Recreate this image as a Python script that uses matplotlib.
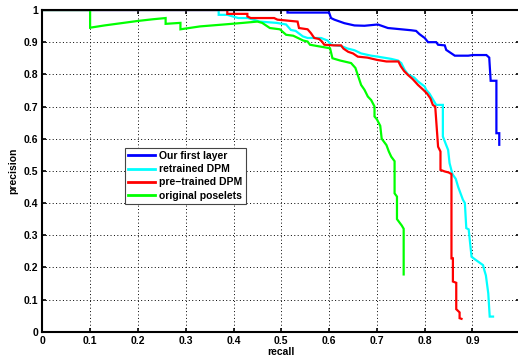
import numpy as np
import matplotlib
matplotlib.use("Agg")
import matplotlib.pyplot as plt

plt.rcParams['font.family'] = ['Liberation Sans', 'DejaVu Sans']
plt.rcParams['font.weight'] = 'bold'

# precision/recall curves
ours_recall = [0, 0.513, 0.513, 0.600, 0.604, 0.611, 0.632, 0.653, 0.674, 0.702, 0.723,
               0.751, 0.772, 0.782, 0.789, 0.800, 0.807, 0.824, 0.828, 0.842, 0.845,
               0.863, 0.891, 0.901, 0.929, 0.935, 0.938, 0.950, 0.950, 0.956, 0.956]
ours_prec = [1, 1, 0.992, 0.992, 0.975, 0.970, 0.959, 0.952, 0.951, 0.955, 0.944,
             0.940, 0.937, 0.935, 0.925, 0.913, 0.900, 0.900, 0.892, 0.890, 0.876,
             0.858, 0.858, 0.860, 0.860, 0.852, 0.780, 0.780, 0.617, 0.617, 0.581]

retrained_recall = [0, 0.369, 0.369, 0.387, 0.410, 0.430, 0.455, 0.490, 0.510, 0.520, 0.530,
                    0.545, 0.555, 0.583, 0.597, 0.604, 0.625, 0.639, 0.653, 0.667, 0.688,
                    0.702, 0.730, 0.744, 0.751, 0.758, 0.765, 0.778, 0.786, 0.800, 0.803,
                    0.810, 0.818, 0.824, 0.838, 0.838, 0.845, 0.849, 0.852, 0.858, 0.865,
                    0.870, 0.875, 0.880, 0.884, 0.887, 0.892, 0.898, 0.905, 0.922, 0.925,
                    0.928, 0.933, 0.936, 0.943]
retrained_prec = [1, 1, 0.985, 0.985, 0.975, 0.975, 0.964, 0.960, 0.955, 0.938, 0.935,
                  0.918, 0.913, 0.913, 0.905, 0.892, 0.888, 0.880, 0.875, 0.865, 0.858,
                  0.855, 0.848, 0.843, 0.835, 0.814, 0.800, 0.790, 0.778, 0.762, 0.752,
                  0.740, 0.720, 0.705, 0.705, 0.607, 0.580, 0.565, 0.524, 0.490, 0.475,
                  0.450, 0.430, 0.410, 0.400, 0.322, 0.318, 0.233, 0.225, 0.207, 0.190,
                  0.175, 0.119, 0.047, 0.047]

pretrained_recall = [0, 0.387, 0.387, 0.429, 0.429, 0.436, 0.485, 0.492, 0.534, 0.537, 0.555,
                     0.562, 0.569, 0.579, 0.585, 0.590, 0.610, 0.625, 0.630, 0.640, 0.650,
                     0.660, 0.680, 0.700, 0.720, 0.745, 0.750, 0.757, 0.765, 0.775, 0.786,
                     0.797, 0.805, 0.812, 0.817, 0.822, 0.828, 0.833, 0.833, 0.842, 0.850,
                     0.856, 0.856, 0.859, 0.859, 0.866, 0.866, 0.873, 0.873, 0.877]
pretrained_prec = [1, 1, 0.988, 0.988, 0.980, 0.975, 0.975, 0.970, 0.964, 0.944, 0.940,
                   0.928, 0.913, 0.910, 0.902, 0.892, 0.890, 0.890, 0.880, 0.870, 0.865,
                   0.855, 0.852, 0.845, 0.840, 0.840, 0.825, 0.810, 0.798, 0.785, 0.767,
                   0.752, 0.740, 0.725, 0.705, 0.700, 0.575, 0.560, 0.503, 0.498, 0.495,
                   0.490, 0.228, 0.228, 0.156, 0.152, 0.070, 0.060, 0.042, 0.040]

poselets_recall = [0, 0.100, 0.100, 0.130, 0.160, 0.200, 0.230, 0.258, 0.258, 0.289, 0.289,
                   0.330, 0.380, 0.420, 0.450, 0.460, 0.471, 0.476, 0.497, 0.510, 0.525,
                   0.546, 0.555, 0.560, 0.575, 0.602, 0.607, 0.623, 0.646, 0.655, 0.660,
                   0.667, 0.674, 0.681, 0.688, 0.695, 0.695, 0.700, 0.707, 0.710, 0.720,
                   0.725, 0.730, 0.737, 0.737, 0.742, 0.742, 0.752, 0.756, 0.756]
poselets_prec = [1, 1, 0.945, 0.952, 0.958, 0.966, 0.971, 0.975, 0.957, 0.960, 0.940,
                 0.949, 0.955, 0.960, 0.964, 0.960, 0.949, 0.944, 0.940, 0.923, 0.920,
                 0.905, 0.902, 0.892, 0.888, 0.881, 0.850, 0.843, 0.835, 0.820, 0.798,
                 0.767, 0.752, 0.731, 0.720, 0.700, 0.669, 0.660, 0.640, 0.600, 0.580,
                 0.560, 0.544, 0.530, 0.430, 0.420, 0.350, 0.330, 0.320, 0.178]

x_ticklabels = ['0', '0.1', '0.2', '0.3', '0.4', '0.5', '0.6', '0.7', '0.8', '0.9', '']
y_ticklabels = ['0', '0.1', '0.2', '0.3', '0.4', '0.5', '0.6', '0.7', '0.8', '0.9', '1']

series = [
    ("Our first layer", ours_recall, ours_prec, "#0000ff"),
    ("retrained DPM", retrained_recall, retrained_prec, "#00ffff"),
    ("pre\u2212trained DPM", pretrained_recall, pretrained_prec, "#ff0000"),
    ("original poselets", poselets_recall, poselets_prec, "#00ff00"),
]

fig = plt.figure(figsize=(5.18, 3.56), dpi=100)
ax = fig.add_axes([42.3 / 518, 24.3 / 356, 478 / 518, 321.7 / 356])

for label, r, p, c in series:
    ax.plot(r, p, color=c, lw=1.6, label=label, solid_joinstyle='miter')

ax.set_xlim(0, 1)
ax.set_ylim(0, 1)
ax.set_xticks(np.arange(0, 1.01, 0.1))
ax.set_yticks(np.arange(0, 1.01, 0.1))
ax.set_xticklabels(x_ticklabels)
ax.set_yticklabels(y_ticklabels)
ax.tick_params(direction='in', length=3, width=1.2, labelsize=7.5, pad=3,
               top=True, right=True)
ax.grid(True, color='black', linestyle=(0, (1, 2.5)), lw=0.7)
for s in ax.spines.values():
    s.set_linewidth(1.5)

ax.set_xlabel('recall', fontsize=7.5, fontweight='bold', labelpad=1)
ax.set_ylabel('precision', fontsize=7.5, fontweight='bold', labelpad=4)

leg = ax.legend(loc='upper left', bbox_to_anchor=(0.173, 0.571), borderaxespad=0,
                fontsize=7.5, fancybox=False, framealpha=1, edgecolor='#444444',
                handlelength=2.6, handletextpad=0.4, borderpad=0.3, labelspacing=0.3)
leg.get_frame().set_linewidth(0.8)
for line in leg.get_lines():
    line.set_linewidth(2)

fig.savefig('out.png', dpi=100)
